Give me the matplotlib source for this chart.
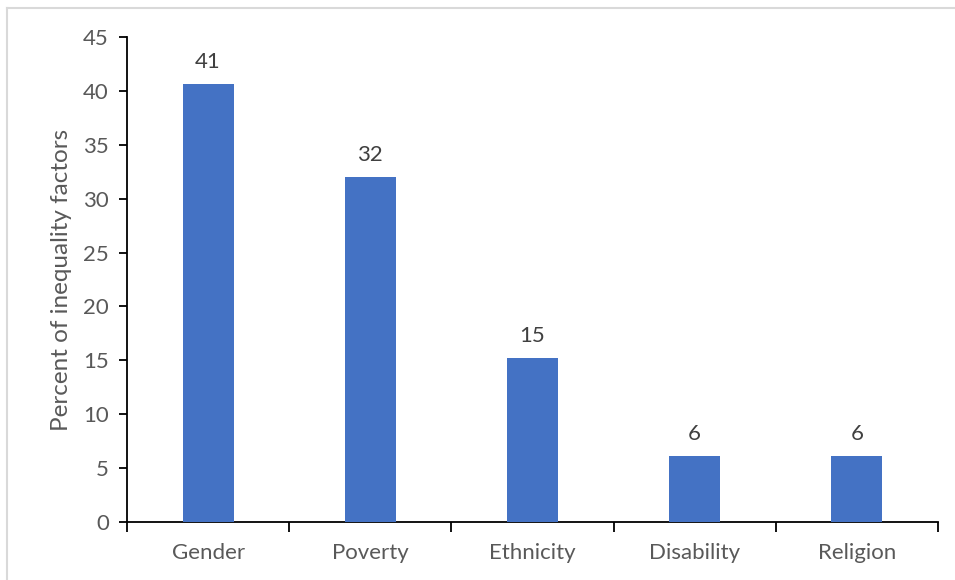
import matplotlib
matplotlib.use("Agg")
import matplotlib.pyplot as plt
from matplotlib.lines import Line2D

categories = ["Gender", "Poverty", "Ethnicity", "Disability", "Religion"]
values = [40.6, 32.0, 15.2, 6.1, 6.1]
labels = ["41", "32", "15", "6", "6"]
yticks = [0, 5, 10, 15, 20, 25, 30, 35, 40, 45]

plt.rcParams['font.family'] = ['Lato', 'DejaVu Sans']
W, H = 955, 580
fig = plt.figure(figsize=(W / 100, H / 100), dpi=100)
ax = fig.add_axes([127 / W, 1 - 522 / H, (938 - 127) / W, (522 - 37) / H])

text_color = "#595959"
x = list(range(len(categories)))
ax.bar(x, values, width=0.315, color="#4472C4", zorder=3)
for xi, v, lab in zip(x, values, labels):
    ax.annotate(lab, (xi, v), xytext=(0, 9), textcoords="offset points",
                ha="center", va="bottom", fontsize=16, color="#404040")

ax.set_xlim(-0.5, len(categories) - 0.5)
ax.set_ylim(0, 45)
ax.set_yticks(yticks)
ax.set_yticklabels([str(t) for t in yticks], fontsize=16, color=text_color)
ax.set_xticks(x)
ax.set_xticklabels(categories, fontsize=16, color=text_color)
ax.tick_params(axis='x', which='major', length=0, pad=15)
ax.set_xticks([i - 0.5 for i in range(len(categories) + 1)], minor=True)
ax.tick_params(axis='x', which='minor', length=7, width=1.3, color="black", direction="out")
ax.tick_params(axis='y', which='major', length=6, width=1.3, color="black", direction="out", pad=7)

for s in ["top", "right"]:
    ax.spines[s].set_visible(False)
for s in ["left", "bottom"]:
    ax.spines[s].set_linewidth(1.3)
    ax.spines[s].set_color("black")

ax.set_ylabel("Percent of inequality factors", fontsize=17.5, color=text_color, labelpad=8)

# light gray chart-area border (left and top edges visible)
fig.add_artist(Line2D([7 / W, 7 / W], [0, 1 - 8 / H], transform=fig.transFigure,
                      color="#D9D9D9", linewidth=1.5))
fig.add_artist(Line2D([7 / W, 1], [1 - 8 / H, 1 - 8 / H], transform=fig.transFigure,
                      color="#D9D9D9", linewidth=1.5))

fig.savefig("out.png", dpi=100)
